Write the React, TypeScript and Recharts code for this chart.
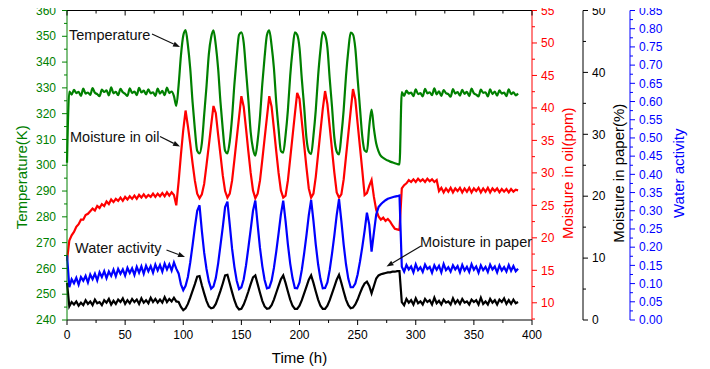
import { LineChart, Line, XAxis, YAxis } from "recharts";

const FONT = "'Liberation Sans', Arial, sans-serif";
const GREEN = "#008000";
const RED = "#ff0000";
const BLUE = "#0000ff";
const BLACK = "#000000";

// time axis (h)
const hours = [
  0, 2, 4, 6, 8, 10, 12, 14, 16, 18,
  20, 22, 24, 26, 28, 30, 32, 34, 36, 38,
  40, 42, 44, 46, 48, 50, 52, 54, 56, 58,
  60, 62, 64, 66, 68, 70, 72, 74, 76, 78,
  80, 82, 84, 86, 88, 90, 92, 94, 96, 98,
  100, 102, 104, 106, 108, 110, 112, 114, 116, 118,
  120, 122, 124, 126, 128, 130, 132, 134, 136, 138,
  140, 142, 144, 146, 148, 150, 152, 154, 156, 158,
  160, 162, 164, 166, 168, 170, 172, 174, 176, 178,
  180, 182, 184, 186, 188, 190, 192, 194, 196, 198,
  200, 202, 204, 206, 208, 210, 212, 214, 216, 218,
  220, 222, 224, 226, 228, 230, 232, 234, 236, 238,
  240, 242, 244, 246, 248, 250, 252, 254, 256, 258,
  260, 262, 264, 266, 268, 270, 272, 274, 276, 278,
  280, 282, 284, 286, 288, 290, 292, 294, 296, 298,
  300, 302, 304, 306, 308, 310, 312, 314, 316, 318,
  320, 322, 324, 326, 328, 330, 332, 334, 336, 338,
  340, 342, 344, 346, 348, 350, 352, 354, 356, 358,
  360, 362, 364, 366, 368, 370, 372, 374, 376, 378,
  380, 382, 384, 386, 388,
];

// Temperature (K)
const temperature = [
  301, 328.6, 327.4, 329.2, 328.0, 328.5, 326.9, 329.7, 327.8, 328.2,
  327.3, 329.9, 328.1, 327.6, 326.8, 329.3, 328.4, 329.0, 327.1, 330.2,
  327.9, 328.5, 327.2, 329.6, 328.3, 327.7, 326.9, 329.8, 328.0, 328.6,
  327.2, 330.0, 328.2, 328.9, 327.5, 329.4, 327.9, 328.3, 326.9, 329.7,
  327.8, 328.8, 327.2, 330.1, 328.0, 328.6, 326.8, 323.0, 331.0, 342.5,
  350.2, 352.4, 346.6, 337.5, 324.6, 314.0, 305.6, 304.6, 308.6, 319.5,
  330.6, 343.0, 349.6, 352.3, 346.6, 337.5, 324.6, 314.0, 305.6, 304.6,
  309.3, 318.6, 331.4, 342.1, 350.6, 351.5, 347.5, 336.6, 325.5, 312.9,
  306.4, 303.7, 309.5, 318.7, 331.5, 342.0, 350.5, 352.3, 346.4, 337.6,
  324.4, 314.1, 305.5, 304.9, 311.6, 321.3, 334.6, 344.5, 351.5, 350.6,
  345.5, 333.4, 322.6, 310.5, 305.3, 304.3, 311.5, 321.4, 334.5, 344.6,
  351.6, 350.5, 345.6, 333.5, 322.5, 310.6, 305.3, 304.2, 311.6, 321.5,
  334.6, 344.5, 351.4, 350.7, 345.4, 333.6, 322.3, 311.2, 305.8, 305.2,
  315.0, 321.6, 314.2, 308.4, 305.4, 303.6, 302.9, 302.3, 301.8, 301.4,
  301.1, 300.8, 300.5, 300.3, 328.4, 326.9, 328.9, 327.8, 328.2, 326.8,
  329.4, 327.6, 328.0, 326.7, 329.6, 327.9, 328.3, 327.2, 329.8, 327.5,
  328.7, 326.9, 329.1, 328.0, 327.6, 326.6, 329.5, 327.8, 328.4, 327.0,
  329.2, 327.7, 328.5, 326.8, 329.7, 327.9, 327.4, 326.7, 329.3, 328.1,
  328.3, 326.7, 329.4, 327.6, 328.6, 327.0, 329.0, 327.8, 328.2, 326.8,
  329.4, 327.6, 328.3, 327.1, 327.8,
];

// Moisture in oil (ppm)
const oilMoisture = [
  16.5, 19.6, 20.4, 20.9, 21.7, 22.1, 22.8, 22.8, 23.5, 23.7,
  24.1, 24.5, 24.2, 24.9, 24.6, 25.2, 24.9, 25.6, 25.2, 25.9,
  25.5, 26.0, 25.7, 26.2, 25.7, 26.3, 25.9, 26.4, 26.0, 26.5,
  26.0, 26.6, 26.2, 26.7, 26.2, 26.6, 26.3, 26.8, 26.3, 26.8,
  26.4, 26.9, 26.4, 27.0, 26.5, 27.0, 26.6, 25.0, 28.6, 32.8,
  36.6, 39.6, 37.2, 34.5, 31.5, 28.8, 26.8, 26.1, 26.7, 28.3,
  31.2, 34.2, 37.3, 40.3, 39.2, 35.9, 32.8, 29.6, 27.2, 26.2,
  26.8, 28.8, 32.0, 35.3, 38.6, 41.8, 40.2, 36.8, 33.3, 30.0,
  27.3, 26.1, 26.8, 28.8, 32.0, 35.3, 38.6, 41.8, 40.2, 36.8,
  33.3, 30.0, 27.3, 26.2, 26.5, 28.8, 32.2, 35.6, 39.0, 42.3,
  41.4, 37.9, 34.3, 30.8, 27.6, 26.2, 26.8, 29.4, 32.9, 36.4,
  39.8, 42.6, 40.6, 37.1, 33.5, 30.0, 27.0, 26.2, 26.7, 29.0,
  32.5, 36.0, 39.5, 42.9, 41.3, 37.6, 34.0, 30.4, 26.6, 26.9,
  28.0, 28.9, 26.3, 24.3, 23.3, 22.8, 23.1, 22.6, 22.9, 22.5,
  21.9, 21.4, 21.3, 21.2, 27.6, 28.1, 28.4, 28.9, 28.6, 29.0,
  28.6, 29.1, 28.7, 29.0, 28.6, 29.1, 28.7, 29.0, 28.6, 28.9,
  27.2, 27.7, 27.0, 27.6, 27.1, 27.7, 27.0, 27.6, 27.2, 27.7,
  27.0, 27.6, 27.1, 27.7, 27.0, 27.6, 27.2, 27.7, 27.0, 27.6,
  27.1, 27.7, 27.0, 27.6, 27.2, 27.6, 27.0, 27.5, 27.1, 27.5,
  27.0, 27.5, 27.1, 27.4, 27.3,
];

// Moisture in paper (%)
const paperMoisture = [
  6.0, 2.2, 2.9, 2.5, 3.0, 2.3, 2.8, 2.4, 3.2, 2.6,
  3.0, 2.4, 3.3, 2.7, 2.9, 2.4, 3.2, 2.8, 3.4, 2.5,
  3.1, 2.6, 3.3, 2.9, 3.5, 2.6, 3.2, 2.7, 3.4, 2.9,
  3.3, 2.6, 3.5, 2.8, 3.2, 2.7, 3.6, 2.9, 3.4, 2.8,
  3.3, 2.8, 3.7, 2.9, 3.4, 3.0, 3.6, 3.0, 2.9, 2.1,
  1.6, 1.9, 2.6, 3.6, 4.7, 5.8, 7.0, 7.1, 5.6, 4.3,
  3.1, 2.2, 1.9, 2.0, 2.6, 3.6, 4.7, 5.9, 7.2, 7.3,
  5.9, 4.5, 3.2, 2.2, 1.7, 1.8, 2.5, 3.5, 4.6, 5.8,
  6.9, 7.2, 5.8, 4.4, 3.1, 2.2, 1.8, 1.9, 2.4, 3.3,
  4.4, 5.5, 6.6, 7.2, 6.0, 4.6, 3.3, 2.3, 1.8, 1.8,
  2.3, 3.2, 4.3, 5.4, 6.5, 7.2, 6.0, 4.6, 3.3, 2.3,
  1.8, 1.8, 2.3, 3.2, 4.3, 5.4, 6.5, 7.3, 6.0, 4.6,
  3.3, 2.4, 1.9, 2.0, 2.5, 3.3, 4.3, 5.2, 5.9, 6.2,
  5.5, 4.3, 5.5, 6.7, 7.2, 7.4, 7.5, 7.6, 7.7, 7.7,
  7.8, 7.8, 7.9, 7.9, 2.9, 2.4, 3.4, 2.8, 3.2, 2.5,
  3.5, 2.7, 3.0, 2.5, 3.4, 2.9, 3.2, 2.5, 3.6, 2.7,
  3.1, 2.5, 3.3, 2.8, 3.0, 2.5, 3.5, 2.7, 3.2, 2.6,
  3.4, 2.8, 3.0, 2.5, 3.3, 2.9, 3.2, 2.5, 3.6, 2.6,
  3.0, 2.5, 3.4, 2.8, 3.2, 2.5, 3.3, 2.9, 3.5, 2.6,
  3.2, 2.6, 3.3, 2.7, 2.9,
];

// Water activity
const waterActivity = [
  0.178, 0.09, 0.112, 0.101, 0.116, 0.097, 0.118, 0.108, 0.121, 0.103,
  0.125, 0.112, 0.127, 0.109, 0.131, 0.118, 0.134, 0.115, 0.133, 0.121,
  0.138, 0.12, 0.14, 0.127, 0.139, 0.122, 0.143, 0.129, 0.142, 0.124,
  0.146, 0.13, 0.147, 0.127, 0.149, 0.134, 0.148, 0.13, 0.152, 0.136,
  0.151, 0.133, 0.155, 0.139, 0.153, 0.136, 0.158, 0.141, 0.128, 0.098,
  0.082, 0.094, 0.118, 0.158, 0.205, 0.255, 0.3, 0.315, 0.245, 0.185,
  0.14, 0.106, 0.086, 0.092, 0.115, 0.155, 0.205, 0.255, 0.31, 0.325,
  0.262, 0.196, 0.146, 0.108, 0.085, 0.09, 0.112, 0.15, 0.198, 0.248,
  0.3, 0.328, 0.262, 0.198, 0.148, 0.11, 0.087, 0.089, 0.108, 0.143,
  0.188, 0.238, 0.29, 0.328, 0.272, 0.208, 0.155, 0.115, 0.088, 0.087,
  0.103, 0.138, 0.183, 0.233, 0.288, 0.33, 0.272, 0.207, 0.153, 0.113,
  0.087, 0.088, 0.103, 0.138, 0.183, 0.233, 0.288, 0.332, 0.272, 0.207,
  0.153, 0.113, 0.09, 0.09, 0.1, 0.125, 0.16, 0.2, 0.245, 0.295,
  0.262, 0.188, 0.24, 0.29, 0.31, 0.318, 0.324, 0.329, 0.333, 0.335,
  0.337, 0.339, 0.34, 0.342, 0.146, 0.133, 0.151, 0.139, 0.147, 0.131,
  0.153, 0.137, 0.145, 0.132, 0.152, 0.14, 0.146, 0.13, 0.15, 0.138,
  0.149, 0.131, 0.154, 0.137, 0.145, 0.133, 0.15, 0.139, 0.148, 0.131,
  0.151, 0.136, 0.146, 0.132, 0.153, 0.138, 0.147, 0.13, 0.15, 0.137,
  0.146, 0.132, 0.152, 0.139, 0.147, 0.131, 0.15, 0.136, 0.145, 0.133,
  0.151, 0.135, 0.148, 0.134, 0.141,
];

// ticks (all) and the ones that carry a label
const timeTicks = [0, 25, 50, 75, 100, 125, 150, 175, 200, 225, 250, 275, 300, 325, 350, 375, 400];
const timeLabels = [0, 50, 100, 150, 200, 250, 300, 350, 400];
const tempTicks = [240, 245, 250, 255, 260, 265, 270, 275, 280, 285, 290, 295, 300, 305, 310, 315, 320, 325, 330, 335, 340, 345, 350, 355, 360];
const tempLabels = [240, 250, 260, 270, 280, 290, 300, 310, 320, 330, 340, 350, 360];
const oilTicks = [7.5, 10, 12.5, 15, 17.5, 20, 22.5, 25, 27.5, 30, 32.5, 35, 37.5, 40, 42.5, 45, 47.5, 50, 52.5, 55];
const oilLabels = [10, 15, 20, 25, 30, 35, 40, 45, 50, 55];
const paperTicks = [0, 5, 10, 15, 20, 25, 30, 35, 40, 45, 50];
const paperLabels = [0, 10, 20, 30, 40, 50];
const awTicks = [
  0, 0.025, 0.05, 0.075, 0.1, 0.125, 0.15, 0.175, 0.2, 0.225, 0.25, 0.275, 0.3, 0.325, 0.35, 0.375,
  0.4, 0.425, 0.45, 0.475, 0.5, 0.525, 0.55, 0.575, 0.6, 0.625, 0.65, 0.675, 0.7, 0.725, 0.75, 0.775,
  0.8, 0.825, 0.85,
];
const awLabels = [0, 0.05, 0.1, 0.15, 0.2, 0.25, 0.3, 0.35, 0.4, 0.45, 0.5, 0.55, 0.6, 0.65, 0.7, 0.75, 0.8, 0.85];

const rows = hours.map((h, i) => ({
  hour: h,
  temp: temperature[i],
  oil: oilMoisture[i],
  paper: paperMoisture[i],
  aw: waterActivity[i],
}));

type Side = "left" | "right" | "bottom" | "top";

// draws major/minor tick marks and the label for majors
function makeTick(side: Side, color: string, labels: number[], fmt: (v: number) => string = String) {
  return (props: any) => {
    const { x, y, payload } = props;
    const v = payload.value;
    const major = labels.includes(v);
    const len = major ? 5 : 3;
    if (side === "top") {
      return <line x1={x} y1={y} x2={x} y2={y + len} stroke={color} />;
    }
    if (side === "bottom") {
      return (
        <g>
          <line x1={x} y1={y} x2={x} y2={y + len} stroke={color} />
          {major && (
            <text x={x} y={y + 15} dy="0.35em" textAnchor="middle" fill={color} fontSize={12} fontFamily={FONT}>
              {fmt(v)}
            </text>
          )}
        </g>
      );
    }
    if (side === "left") {
      return (
        <g>
          <line x1={x} y1={y} x2={x - len} y2={y} stroke={color} />
          {major && (
            <text x={x - 11} y={y} dy="0.35em" textAnchor="end" fill={color} fontSize={12} fontFamily={FONT}>
              {fmt(v)}
            </text>
          )}
        </g>
      );
    }
    return (
      <g>
        <line x1={x} y1={y} x2={x + len} y2={y} stroke={color} />
        {major && (
          <text x={x + 9} y={y} dy="0.35em" textAnchor="start" fill={color} fontSize={12} fontFamily={FONT}>
            {fmt(v)}
          </text>
        )}
      </g>
    );
  };
}

function AxisTitle({ viewBox, text, color, dx, dy }: any) {
  const cx = viewBox.x + dx;
  const cy = viewBox.y + viewBox.height / 2 + dy;
  return (
    <text
      x={cx}
      y={cy}
      transform={`rotate(-90 ${cx} ${cy})`}
      textAnchor="middle"
      dominantBaseline="central"
      fill={color}
      fontSize={15}
      fontFamily={FONT}
    >
      {text}
    </text>
  );
}

function TimeTitle({ viewBox }: any) {
  return (
    <text
      x={viewBox.x + viewBox.width / 2}
      y={viewBox.y + 37}
      dominantBaseline="central"
      textAnchor="middle"
      fill={BLACK}
      fontSize={15}
      fontFamily={FONT}
    >
      Time (h)
    </text>
  );
}

function Arrow({ x1, y1, x2, y2 }: { x1: number; y1: number; x2: number; y2: number }) {
  const a = Math.atan2(y2 - y1, x2 - x1);
  const L = 7;
  const W = 2.6;
  const bx = x2 - L * Math.cos(a);
  const by = y2 - L * Math.sin(a);
  const px = -Math.sin(a) * W;
  const py = Math.cos(a) * W;
  return (
    <g>
      <line x1={x1} y1={y1} x2={bx} y2={by} stroke="#111" strokeWidth={1.2} />
      <polygon points={`${x2},${y2} ${bx + px},${by + py} ${bx - px},${by - py}`} fill="#111" />
    </g>
  );
}

// series callouts, in page pixels
function Callouts() {
  const t = { fontSize: 14.5, fontFamily: FONT, fill: "#111" };
  return (
    <svg width={710} height={369} style={{ position: "absolute", left: 0, top: 0, pointerEvents: "none" }}>
      <text x={69} y={40} {...t}>Temperature</text>
      <Arrow x1={152} y1={34} x2={180} y2={47} />
      <text x={70} y={141.5} {...t}>Moisture in oil</text>
      <Arrow x1={160} y1={136.5} x2={180} y2={146.5} />
      <text x={75} y={253} {...t}>Water activity</text>
      <Arrow x1={166.5} y1={250} x2={185} y2={257} />
      <text x={420} y={247} {...t}>Moisture in paper</text>
      <Arrow x1={421} y1={246} x2={386.5} y2={266.5} />
    </svg>
  );
}

export default function App() {
  return (
    <div style={{ position: "relative", left: -8, top: -8, width: 710, height: 369, fontFamily: FONT }}>
      <LineChart width={710} height={369} data={rows} margin={{ top: 9.5, right: 0, bottom: 0, left: 0 }}>
        <XAxis
          dataKey="hour"
          type="number"
          domain={[0, 400]}
          ticks={timeTicks}
          interval={0}
          height={49}
          tickSize={0}
          tickMargin={0}
          tickLine={false}
          axisLine={{ stroke: BLACK }}
          tick={makeTick("bottom", BLACK, timeLabels)}
          label={<TimeTitle />}
        />
        <XAxis
          xAxisId="top"
          orientation="top"
          dataKey="hour"
          type="number"
          domain={[0, 400]}
          ticks={timeTicks}
          interval={0}
          height={1}
          tickSize={0}
          tickMargin={0}
          tickLine={false}
          axisLine={{ stroke: BLACK }}
          tick={makeTick("top", BLACK, timeLabels)}
        />
        <YAxis
          yAxisId="a_temp"
          orientation="left"
          type="number"
          width={67}
          domain={[240, 360]}
          ticks={tempTicks}
          interval={0}
          tickSize={0}
          tickMargin={0}
          tickLine={false}
          axisLine={{ stroke: GREEN }}
          tick={makeTick("left", GREEN, tempLabels)}
          label={<AxisTitle text="Temperature(K)" color={GREEN} dx={21.5} dy={12} />}
        />
        <YAxis
          yAxisId="b_oil"
          orientation="right"
          type="number"
          width={51}
          domain={[7.35, 55]}
          ticks={oilTicks}
          interval={0}
          tickSize={0}
          tickMargin={0}
          tickLine={false}
          axisLine={{ stroke: RED }}
          tick={makeTick("right", RED, oilLabels)}
          label={<AxisTitle text="Moisture in oil(ppm)" color={RED} dx={35.5} dy={8} />}
        />
        <YAxis
          yAxisId="c_paper"
          orientation="right"
          type="number"
          width={47}
          domain={[0, 50]}
          ticks={paperTicks}
          interval={0}
          tickSize={0}
          tickMargin={0}
          tickLine={false}
          axisLine={{ stroke: BLACK }}
          tick={makeTick("right", BLACK, paperLabels)}
          label={<AxisTitle text="Moisture in paper(%)" color={BLACK} dx={35} dy={8} />}
        />
        <YAxis
          yAxisId="d_aw"
          orientation="right"
          type="number"
          width={80}
          domain={[0, 0.85]}
          ticks={awTicks}
          interval={0}
          tickSize={0}
          tickMargin={0}
          tickLine={false}
          axisLine={{ stroke: BLUE }}
          tick={makeTick("right", BLUE, awLabels, (v) => v.toFixed(2))}
          label={<AxisTitle text="Water activity" color={BLUE} dx={48} dy={8} />}
        />
        <Line yAxisId="b_oil" dataKey="oil" type="linear" stroke={RED} strokeWidth={2.2} dot={false} isAnimationActive={false} />
        <Line yAxisId="a_temp" dataKey="temp" type="monotone" stroke={GREEN} strokeWidth={2.2} dot={false} isAnimationActive={false} />
        <Line yAxisId="d_aw" dataKey="aw" type="linear" stroke={BLUE} strokeWidth={2.2} dot={false} isAnimationActive={false} />
        <Line yAxisId="c_paper" dataKey="paper" type="linear" stroke={BLACK} strokeWidth={2.2} dot={false} isAnimationActive={false} />
      </LineChart>
      <Callouts />
    </div>
  );
}
